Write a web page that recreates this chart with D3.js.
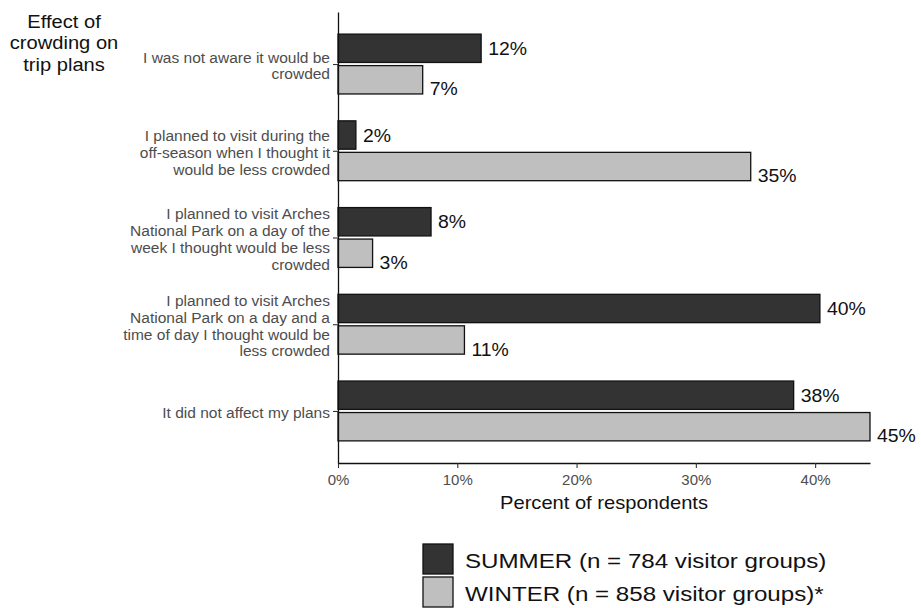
<!DOCTYPE html>
<html>
<head>
<meta charset="utf-8">
<script src="https://cdn.jsdelivr.net/npm/d3@7"></script>
<style>
  body { margin: 0; background: #fff; }
  text { font-family: Arial, "Liberation Sans", sans-serif; }
</style>
</head>
<body>
<div id="chart"></div>
<script>
// categories (line breaks as in the original wrapping)
const categories = [
  "I was not aware it would be\ncrowded",
  "I planned to visit during the\noff-season when I thought it\nwould be less crowded",
  "I planned to visit Arches\nNational Park on a day of the\nweek I thought would be less\ncrowded",
  "I planned to visit Arches\nNational Park on a day and a\ntime of day I thought would be\nless crowded",
  "It did not affect my plans"
];
const seriesKeys = ["summer", "winter"];
const seriesNames = ["SUMMER (n = 784 visitor groups)", "WINTER (n = 858 visitor groups)*"];
const summerValues = [12.0, 1.5, 7.8, 40.4, 38.2];
const winterValues = [7.1, 34.6, 2.9, 10.6, 44.6];
const xTicks = [0, 10, 20, 30, 40];

const colors = { summer: "#333333", winter: "#bfbfbf" };

// the source image is a bit stretched sideways, so text gets a horizontal scale
function placeText(sel, x, y, sx) {
  return sel.attr("transform", "translate(" + x + "," + y + ") scale(" + sx + ",1)");
}

var width = 921, height = 608;
var plot = { left: 338, right: 870, top: 12, bottom: 463 };

var svg = d3.select("#chart")
  .append("svg")
  .attr("width", width)
  .attr("height", height);

// x scale in percent, no expansion past the largest bar
const xScale = d3.scaleLinear()
  .domain([0, d3.max(summerValues.concat(winterValues))])
  .range([plot.left, plot.right]);

// category centres, ggplot-like 0.6 padding at both ends
const yScale = d3.scalePoint()
  .domain(categories)
  .range([plot.top, plot.bottom])
  .padding(0.6);

const half = yScale.step() * 0.345;
const inner = d3.scaleBand()
  .domain(seriesKeys)
  .range([-half, half])
  .paddingInner(0.1);

const rows = categories.map((c, i) => ({ cat: c, summer: summerValues[i], winter: winterValues[i] }));

// bars
const groups = svg.selectAll(".grp")
  .data(rows)
  .enter().append("g")
  .attr("class", "grp")
  .attr("transform", d => "translate(0," + yScale(d.cat) + ")");

seriesKeys.forEach(function(k) {
  groups.append("rect")
    .attr("x", xScale(0))
    .attr("y", inner(k))
    .attr("width", d => xScale(d[k]) - xScale(0))
    .attr("height", inner.bandwidth())
    .attr("fill", colors[k])
    .attr("stroke", "#111")
    .attr("stroke-width", 1.3);

  // value labels
  groups.append("text")
    .text(d => Math.round(d[k]) + "%")
    .attr("font-size", 18.5)
    .attr("fill", "#111")
    .each(function(d) {
      var y = k === "summer" ? inner(k) + inner.bandwidth() / 2 + 6.5 : inner(k) + inner.bandwidth() + 1.5;
      placeText(d3.select(this), xScale(d[k]) + 7, y, 1.05);
    });
});

// x axis
const xAxis = svg.append("g")
  .attr("transform", "translate(0," + plot.bottom + ")")
  .call(d3.axisBottom(xScale).tickValues(xTicks).tickSize(5).tickSizeOuter(0).tickFormat(d => d + "%"));
xAxis.select(".domain").attr("stroke", "#111").attr("stroke-width", 1.3);
xAxis.selectAll(".tick line").attr("stroke", "#333").attr("stroke-width", 1.1);
xAxis.selectAll(".tick text")
  .attr("font-size", 15)
  .attr("fill", "#4d4d4d")
  .attr("font-family", "Arial, 'Liberation Sans', sans-serif")
  .attr("dy", "0.9em");

// y axis, labels drawn by hand because they wrap
const yAxis = svg.append("g")
  .attr("transform", "translate(" + plot.left + ",0)")
  .call(d3.axisLeft(yScale).tickSize(5).tickSizeOuter(0).tickFormat(""));
yAxis.select(".domain").attr("stroke", "#111").attr("stroke-width", 1.3);
yAxis.selectAll(".tick line").attr("stroke", "#333").attr("stroke-width", 1.1);

const lineH = 16.8;
categories.forEach(function(c) {
  var lines = c.split("\n");
  var y0 = yScale(c) + 1.5 - (lines.length - 1) * lineH / 2;
  lines.forEach(function(l, j) {
    var t = svg.append("text")
      .text(l)
      .attr("font-size", 15.5)
      .attr("fill", "#4d4d4d")
      .attr("text-anchor", "end");
    placeText(t, plot.left - 8, y0 + j * lineH + 5.5, 1.0);
  });
});

// y title in the top-left corner
["Effect of", "crowding on", "trip plans"].forEach(function(l, j) {
  var t = svg.append("text")
    .text(l)
    .attr("font-size", 19)
    .attr("fill", "#111")
    .attr("text-anchor", "middle");
  placeText(t, 64, 28 + j * 21.3, 1.06);
});

// x title
placeText(svg.append("text")
  .text("Percent of respondents")
  .attr("font-size", 17.5)
  .attr("fill", "#111")
  .attr("text-anchor", "middle"), (plot.left + plot.right) / 2, 509, 1.15);

// legend
const legend = svg.append("g").attr("transform", "translate(423,544)");
seriesKeys.forEach(function(k, i) {
  legend.append("rect")
    .attr("x", 0)
    .attr("y", i * 33)
    .attr("width", 30)
    .attr("height", 30)
    .attr("fill", colors[k])
    .attr("stroke", "#111")
    .attr("stroke-width", 1.3);
  placeText(legend.append("text")
    .text(seriesNames[i])
    .attr("font-size", 21)
    .attr("fill", "#111"), 42, 24 + i * 33, 1.15);
});
</script>
</body>
</html>
